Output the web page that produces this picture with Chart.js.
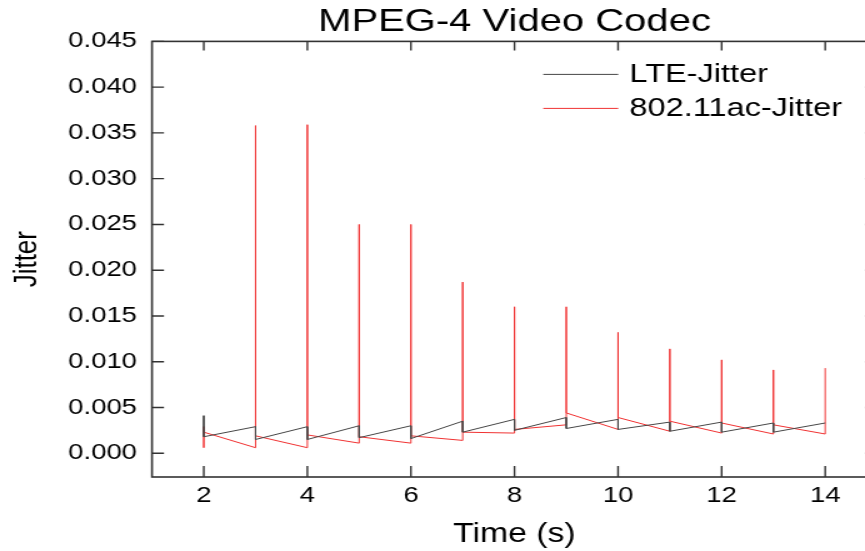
<!DOCTYPE html>
<html>
<head>
<meta charset="utf-8">
<script src="https://cdn.jsdelivr.net/npm/chart.js@4/dist/chart.umd.min.js"></script>
<style>
  html, body { margin: 0; padding: 0; background: #fff; overflow: hidden; }
  /* the reference is stretched sideways, so draw narrow and widen it */
  #wrap { width: 712px; height: 551px; transform: scaleX(1.25); transform-origin: 0 0; }
</style>
</head>
<body>
<div id="wrap"><canvas id="chart" width="712" height="551"></canvas></div>
<script>
// LTE jitter, sawtooth per second
const lteTime   = [2, 2, 3, 3, 4, 4, 5, 5, 6, 6, 7, 7, 8, 8, 9, 9, 10, 10, 11, 11, 12, 12, 13, 13, 14];
const lteJitter = [0.0041, 0.0018, 0.0029, 0.0015, 0.0029, 0.0015, 0.0030, 0.0017, 0.0030, 0.0016,
                   0.0035, 0.0023, 0.0037, 0.0025, 0.0039, 0.0027, 0.0037, 0.0026, 0.0034, 0.0024,
                   0.0034, 0.0023, 0.0033, 0.0023, 0.0033];

// 802.11ac jitter, spike at every second
const wifiTime   = [2, 2, 2, 3, 3, 3, 4, 4, 4, 5, 5, 5, 6, 6, 6, 7, 7, 7, 8, 8, 8,
                    9, 9, 9, 10, 10, 10, 11, 11, 11, 12, 12, 12, 13, 13, 13, 14, 14];
const wifiJitter = [0.0029, 0.0006, 0.0023, 0.0006, 0.0358, 0.0019, 0.0006, 0.0359, 0.0020,
                    0.0011, 0.0250, 0.0018, 0.0011, 0.0250, 0.0019, 0.0014, 0.0187, 0.0023,
                    0.0022, 0.0160, 0.0026, 0.0031, 0.0160, 0.0044, 0.0026, 0.0132, 0.0039,
                    0.0024, 0.0114, 0.0035, 0.0022, 0.0102, 0.0033, 0.0021, 0.0091, 0.0031,
                    0.0021, 0.0093];

const xTicks = [2, 4, 6, 8, 10, 12, 14];
const yTicks = [0, 0.005, 0.010, 0.015, 0.020, 0.025, 0.030, 0.035, 0.040, 0.045];

const toPoints = (xs, ys) => xs.map((t, i) => ({ x: t, y: ys[i] }));

Chart.defaults.font.family = "'Liberation Sans', Arial, sans-serif";
Chart.defaults.color = '#000';

// box around the plot, inward ticks on all four sides, legend inside
const framePlugin = {
    id: 'frame',
    afterDatasetsDraw(chart) {
        const { ctx, chartArea: a, scales: { x, y } } = chart;
        ctx.save();
        ctx.strokeStyle = '#333';
        ctx.lineWidth = 1.6;
        ctx.strokeRect(a.left, a.top, a.right - a.left, a.bottom - a.top);
        ctx.lineWidth = 1.4;
        ctx.beginPath();
        xTicks.forEach(v => {
            const px = x.getPixelForValue(v);
            ctx.moveTo(px, a.bottom); ctx.lineTo(px, a.bottom - 11);
            ctx.moveTo(px, a.top); ctx.lineTo(px, a.top + 9);
        });
        yTicks.forEach(v => {
            const py = y.getPixelForValue(v);
            ctx.moveTo(a.left, py); ctx.lineTo(a.left + 9.6, py);
            ctx.moveTo(a.right, py); ctx.lineTo(a.right - 9.6, py);
        });
        ctx.stroke();

        ctx.font = "26px 'Liberation Sans', Arial, sans-serif";
        ctx.textBaseline = 'middle';
        ctx.fillStyle = '#000';
        chart.data.datasets.forEach((ds, i) => {
            const ly = a.top + 33 + i * 34;
            ctx.strokeStyle = ds.borderColor;
            ctx.lineWidth = 1;
            ctx.beginPath();
            ctx.moveTo(a.right - 267, ly);
            ctx.lineTo(a.right - 207, ly);
            ctx.stroke();
            ctx.fillText(ds.label, a.right - 198, ly);
        });
        ctx.restore();
    }
};

const ctx = document.getElementById('chart').getContext('2d');
new Chart(ctx, {
    type: 'line',
    data: {
        datasets: [{
            label: 'LTE-Jitter',
            data: toPoints(lteTime, lteJitter),
            borderColor: 'rgb(70,70,70)',
            borderWidth: 1,
            pointRadius: 0,
            tension: 0,
            fill: false
        }, {
            label: '802.11ac-Jitter',
            data: toPoints(wifiTime, wifiJitter),
            borderColor: 'rgb(240,50,50)',
            borderWidth: 1,
            pointRadius: 0,
            tension: 0,
            fill: false
        }]
    },
    options: {
        responsive: false,
        animation: false,
        devicePixelRatio: 1,
        layout: { padding: { left: 0, right: 10.4, top: 0, bottom: 0 } },
        plugins: {
            legend: { display: false },
            tooltip: { enabled: false },
            title: {
                display: true,
                text: 'MPEG-4 Video Codec',
                fullSize: false,
                color: '#000',
                font: { size: 32, weight: 'normal' },
                padding: { top: 3, bottom: 0 }
            }
        },
        scales: {
            x: {
                type: 'linear',
                position: 'bottom',
                min: 1,
                max: 15,
                grid: { display: false, drawTicks: false },
                border: { display: false },
                afterBuildTicks: s => { s.ticks = xTicks.map(v => ({ value: v })); },
                afterFit: s => { s.height = 74; },
                ticks: { padding: 6, color: '#000', font: { size: 22 }, callback: v => String(v) },
                title: {
                    display: true,
                    text: 'Time (s)',
                    color: '#000',
                    font: { size: 27 },
                    padding: { top: 0, bottom: 0 }
                }
            },
            y: {
                type: 'linear',
                min: -0.0026,
                max: 0.045,
                grid: { display: false, drawTicks: false },
                border: { display: false },
                afterBuildTicks: s => { s.ticks = yTicks.map(v => ({ value: v })); },
                afterFit: s => { s.width = 121.6; },
                ticks: { padding: 12, color: '#000', font: { size: 22 }, callback: v => v.toFixed(3) },
                title: {
                    display: true,
                    text: 'Jitter',
                    color: '#000',
                    font: { size: 26 },
                    padding: { top: 6, bottom: 0 }
                }
            }
        }
    },
    plugins: [framePlugin]
});
</script>
</body>
</html>
